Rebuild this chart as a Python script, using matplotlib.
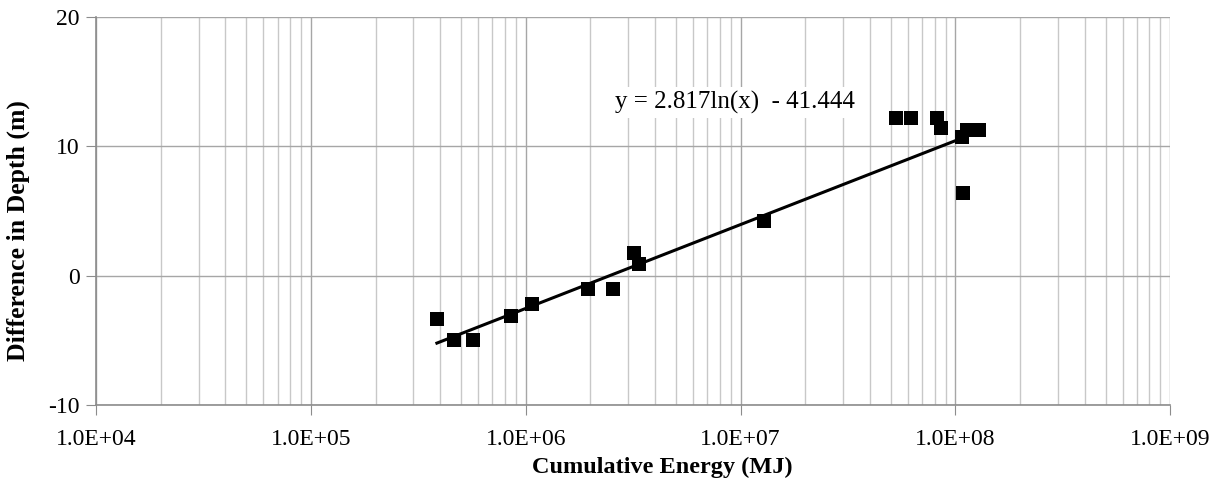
import matplotlib.pyplot as plt
import matplotlib.ticker as ticker
import numpy as np

plt.rcParams['font.family'] = ['Liberation Serif', 'DejaVu Serif']
plt.rcParams['axes.unicode_minus'] = False

# data
energy_mj = [3.86e5, 4.62e5, 5.67e5, 8.5e5, 1.07e6, 1.94e6, 2.54e6, 3.18e6, 3.36e6,
             1.29e7, 5.32e7, 6.24e7, 8.25e7, 8.6e7, 1.07e8, 1.09e8, 1.13e8, 1.2e8, 1.29e8]
depth_diff = [-3.33, -4.96, -4.96, -3.1, -2.17, -1.0, -1.0, 1.78, 0.93,
              4.26, 12.17, 12.17, 12.17, 11.4, 10.7, 6.43, 11.3, 11.3, 11.3]

fit_a = 2.817
fit_b = -41.444
fit_range = [3.86e5, 1.1e8]
fit_label = 'y = 2.817ln(x)  - 41.444'


def sci_label(value, _pos):
    if value <= 0:
        return ''
    exp = int(round(np.log10(value)))
    return f'1.0E+{exp:02d}'


fig = plt.figure(figsize=(12.22, 4.91), dpi=100)
ax = fig.add_axes([0.0786, 0.175, 0.879, 0.79])

xs = np.logspace(np.log10(fit_range[0]), np.log10(fit_range[1]), 100)
ax.plot(xs, fit_a * np.log(xs) + fit_b, color='black', linewidth=2.2, zorder=3)
ax.scatter(energy_mj, depth_diff, marker='s', s=110, color='black', zorder=4, linewidths=0)

ax.set_xscale('log')
ax.set_xlim(1e4, 1e9)
ax.set_ylim(-10, 20)
ax.set_yticks([-10, 0, 10, 20])
ax.xaxis.set_major_locator(ticker.LogLocator(base=10, numticks=10))
ax.xaxis.set_minor_locator(ticker.LogLocator(base=10, subs=np.arange(2, 10), numticks=20))
ax.xaxis.set_major_formatter(ticker.FuncFormatter(sci_label))
ax.xaxis.set_minor_formatter(ticker.NullFormatter())

ax.grid(True, which='major', color='#a6a6a6', linewidth=1.0, zorder=0)
ax.grid(True, which='minor', axis='x', color='#c8c8c8', linewidth=1.0, zorder=0)
ax.set_axisbelow(True)

for side in ['top', 'right']:
    ax.spines[side].set_visible(False)
for side in ['left', 'bottom']:
    ax.spines[side].set_color('#8c8c8c')
    ax.spines[side].set_linewidth(1.2)

ax.tick_params(axis='both', which='major', direction='out', length=7, color='#8c8c8c',
               labelsize=17)
ax.tick_params(axis='x', which='major', pad=10)
ax.tick_params(axis='y', which='major', pad=5)
ax.tick_params(axis='x', which='minor', length=0)

ax.set_xlabel('Cumulative Energy (MJ)', fontsize=17.5, fontweight='bold')
ax.set_ylabel('Difference in Depth (m)', fontsize=18.5, fontweight='bold')
ax.xaxis.set_label_coords(0.527, -0.134)
ax.yaxis.set_label_coords(-0.0615, 0.451)

ax.text(2.6e6, 13.4, fit_label, fontsize=18, va='center', ha='left', zorder=5,
        bbox=dict(facecolor='white', edgecolor='none', pad=3))

fig.savefig('out.png', dpi=100)
